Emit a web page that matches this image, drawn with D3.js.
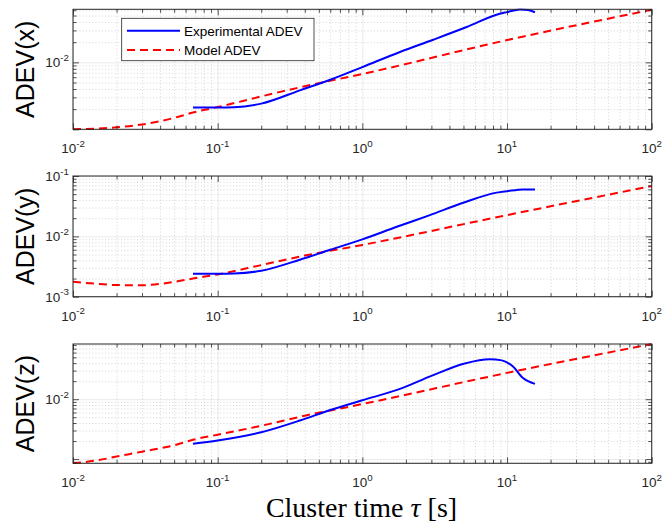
<!DOCTYPE html>
<html>
<head>
<meta charset="utf-8">
<script src="https://cdn.jsdelivr.net/npm/d3@7"></script>
<style>
  body { margin: 0; background: #fff; }
  svg { display: block; }
</style>
</head>
<body>
<svg id="chart" width="665" height="526"></svg>
<script>
// axis settings
var xDomain = [1e-2, 1e2];
var xTickValues = [1e-2, 1e-1, 1e0, 1e1, 1e2];
var axisNames = ["ADEV(x)", "ADEV(y)", "ADEV(z)"];
var yDomains = [[1e-3, 0.062], [1e-3, 0.1], [8.5e-4, 8.35e-2]];
var yTickValues = [[1e-2], [1e-3, 1e-2, 1e-1], [1e-2]];
var legendLabels = ["Experimental ADEV", "Model ADEV"];
var xTitle = "Cluster time ";

// model ADEV (red dashed)
var modelTau = [0.01, 0.015, 0.02, 0.03, 0.05, 0.0675, 0.1, 0.2, 0.4, 1, 10, 100];
var modelX = [1.0e-3, 1.03e-3, 1.07e-3, 1.18e-3, 1.48e-3, 1.78e-3, 2.15e-3, 3.1e-3, 4.4e-3, 6.7e-3, 2.15e-2, 6.1e-2];
var modelY = [1.77e-3, 1.63e-3, 1.56e-3, 1.55e-3, 1.76e-3, 2.0e-3, 2.34e-3, 3.34e-3, 4.8e-3, 7.2e-3, 2.25e-2, 6.8e-2];
var modelZ = [8.5e-4, 9.6e-4, 1.1e-3, 1.33e-3, 1.7e-3, 2.1e-3, 2.55e-3, 3.6e-3, 5.3e-3, 8.3e-3, 2.75e-2, 8.35e-2];

// experimental ADEV (blue)
var expTauX = [0.0675, 0.1, 0.13, 0.2, 0.37, 0.6, 1, 1.82, 3.09, 5.26, 8.9, 10, 12.3, 14, 15.6];
var expX = [2.11e-3, 2.11e-3, 2.13e-3, 2.42e-3, 3.82e-3, 5.5e-3, 8.5e-3, 1.43e-2, 2.18e-2, 3.37e-2, 5.33e-2, 5.63e-2, 6.18e-2, 6.05e-2, 5.6e-2];
var expTauY = [0.0675, 0.1, 0.13, 0.2, 0.37, 0.6, 1, 1.73, 2.93, 4.98, 8.47, 10, 12.9, 15.6];
var expY = [2.4e-3, 2.4e-3, 2.42e-3, 2.69e-3, 4.1e-3, 6.0e-3, 8.9e-3, 1.44e-2, 2.25e-2, 3.6e-2, 5.3e-2, 5.6e-2, 6.0e-2, 5.95e-2];
var expTauZ = [0.0675, 0.1, 0.2, 0.37, 0.6, 1, 1.8, 3, 5.1, 7.6, 9.2, 11, 12.9, 15.6];
var expZ = [1.8e-3, 2.04e-3, 2.8e-3, 4.4e-3, 6.6e-3, 9.6e-3, 1.47e-2, 2.45e-2, 3.95e-2, 4.65e-2, 4.45e-2, 3.5e-2, 2.25e-2, 1.8e-2];

var panels = [
  { model: modelX, expTau: expTauX, exp: expX, top: 9.3, bottom: 129.3 },
  { model: modelY, expTau: expTauY, exp: expY, top: 176, bottom: 296.7 },
  { model: modelZ, expTau: expTauZ, exp: expZ, top: 344, bottom: 463.3 }
];

var left = 73, right = 651.7;
var frameColor = "#262626";
var font = "'Liberation Sans', Arial, Helvetica, sans-serif";
var tickFont = 13.5;

var svg = d3.select("#chart");

var translate = function(x, y) {
  return "translate(" + x + "," + y + ")";
};

// 2..9 x 10^k values inside a domain
var minorValues = function(domain) {
  var out = [];
  var lo = Math.floor(Math.log10(domain[0])), hi = Math.ceil(Math.log10(domain[1]));
  for (var k = lo; k <= hi; k++) {
    for (var m = 2; m <= 9; m++) {
      var v = m * Math.pow(10, k);
      if (v >= domain[0] * 0.999 && v <= domain[1] * 1.001) out.push(v);
    }
  }
  return out;
};

var majorValues = function(domain) {
  var out = [];
  for (var k = Math.floor(Math.log10(domain[0])); k <= Math.ceil(Math.log10(domain[1])); k++) {
    var v = Math.pow(10, k);
    if (v >= domain[0] * 0.999 && v <= domain[1] * 1.001) out.push(v);
  }
  return out;
};

var powerLabel = function(sel, v, fontSize) {
  var e = Math.round(Math.log10(v));
  sel.append("tspan").text("10");
  sel.append("tspan")
    .attr("dy", -6.5)
    .attr("font-size", fontSize * 0.72)
    .text(e);
};

var styleGrid = function(g, color, dash) {
  g.select(".domain").remove();
  g.selectAll("line")
    .attr("stroke", color)
    .attr("stroke-width", 0.6)
    .attr("stroke-dasharray", dash);
};

var styleTicks = function(g) {
  g.select(".domain").remove();
  g.selectAll("line").attr("stroke", frameColor).attr("stroke-width", 0.8);
};

panels.forEach(function(p, i) {
  var h = p.bottom - p.top;
  var x = d3.scaleLog().domain(xDomain).range([left, right]);
  var y = d3.scaleLog().domain(yDomains[i]).range([p.bottom, p.top]);
  var g = svg.append("g").attr("class", "panel");

  // grid
  var xMinor = minorValues(xDomain), yMinor = minorValues(yDomains[i]);
  var xMajor = majorValues(xDomain), yMajor = majorValues(yDomains[i]);

  g.append("g").attr("transform", translate(0, p.bottom))
    .call(d3.axisBottom(x).tickValues(xMinor).tickSize(-h).tickFormat(""))
    .call(styleGrid, "#b8b8b8", "1,2.2");
  g.append("g").attr("transform", translate(left, 0))
    .call(d3.axisLeft(y).tickValues(yMinor).tickSize(-(right - left)).tickFormat(""))
    .call(styleGrid, "#b8b8b8", "1,2.2");
  g.append("g").attr("transform", translate(0, p.bottom))
    .call(d3.axisBottom(x).tickValues(xMajor).tickSize(-h).tickFormat(""))
    .call(styleGrid, "#dcdcdc", null);
  g.append("g").attr("transform", translate(left, 0))
    .call(d3.axisLeft(y).tickValues(yMajor).tickSize(-(right - left)).tickFormat(""))
    .call(styleGrid, "#dcdcdc", null);

  // clip
  svg.append("clipPath").attr("id", "clip" + i)
    .append("rect")
    .attr("x", left).attr("y", p.top - 1)
    .attr("width", right - left).attr("height", h + 2);

  var line = d3.line()
    .x(function(d) { return x(d[0]); })
    .y(function(d) { return y(d[1]); })
    .curve(d3.curveMonotoneX);

  var lines = g.append("g").attr("clip-path", "url(#clip" + i + ")");
  lines.append("path")
    .datum(modelTau.map(function(t, j) { return [t, p.model[j]]; }))
    .attr("d", line)
    .attr("fill", "none")
    .attr("stroke", "#ff0000")
    .attr("stroke-width", 2)
    .attr("stroke-dasharray", "8,5");
  lines.append("path")
    .datum(p.expTau.map(function(t, j) { return [t, p.exp[j]]; }))
    .attr("d", line)
    .attr("fill", "none")
    .attr("stroke", "#0000ff")
    .attr("stroke-width", 2);

  // inward ticks on all four sides
  g.append("g").attr("transform", translate(0, p.bottom))
    .call(d3.axisBottom(x).tickValues(xMinor).tickSize(-3.5).tickFormat("")).call(styleTicks);
  g.append("g").attr("transform", translate(0, p.bottom))
    .call(d3.axisBottom(x).tickValues(xMajor).tickSize(-6).tickFormat("")).call(styleTicks);
  g.append("g").attr("transform", translate(0, p.top))
    .call(d3.axisTop(x).tickValues(xMinor).tickSize(-3.5).tickFormat("")).call(styleTicks);
  g.append("g").attr("transform", translate(0, p.top))
    .call(d3.axisTop(x).tickValues(xMajor).tickSize(-6).tickFormat("")).call(styleTicks);
  g.append("g").attr("transform", translate(left, 0))
    .call(d3.axisLeft(y).tickValues(yMinor).tickSize(-3.5).tickFormat("")).call(styleTicks);
  g.append("g").attr("transform", translate(left, 0))
    .call(d3.axisLeft(y).tickValues(yMajor).tickSize(-6).tickFormat("")).call(styleTicks);
  g.append("g").attr("transform", translate(right, 0))
    .call(d3.axisRight(y).tickValues(yMinor).tickSize(-3.5).tickFormat("")).call(styleTicks);
  g.append("g").attr("transform", translate(right, 0))
    .call(d3.axisRight(y).tickValues(yMajor).tickSize(-6).tickFormat("")).call(styleTicks);

  // frame
  g.append("rect")
    .attr("x", left).attr("y", p.top)
    .attr("width", right - left).attr("height", h)
    .attr("fill", "none")
    .attr("stroke", frameColor)
    .attr("stroke-width", 1);

  // tick labels
  xTickValues.forEach(function(v) {
    g.append("text")
      .attr("x", x(v)).attr("y", p.bottom + 24)
      .attr("text-anchor", "middle")
      .attr("font-family", font).attr("font-size", tickFont)
      .attr("fill", frameColor)
      .call(powerLabel, v, tickFont);
  });
  yTickValues[i].forEach(function(v) {
    g.append("text")
      .attr("x", left - 4).attr("y", y(v) + 5)
      .attr("text-anchor", "end")
      .attr("font-family", font).attr("font-size", tickFont)
      .attr("fill", frameColor)
      .call(powerLabel, v, tickFont);
  });

  // y title
  g.append("text")
    .attr("transform", translate(34, (p.top + p.bottom) / 2) + " rotate(-90)")
    .attr("text-anchor", "middle")
    .attr("font-family", font).attr("font-size", 25)
    .attr("fill", "#000")
    .text(axisNames[i]);
});

// legend in top panel
var lg = svg.append("g").attr("class", "legend");
lg.append("rect")
  .attr("x", 121.7).attr("y", 18.3)
  .attr("width", 192.3).attr("height", 42.4)
  .attr("fill", "#fff")
  .attr("stroke", frameColor)
  .attr("stroke-width", 0.8);
var legendStyles = [
  { color: "#0000ff", dash: null },
  { color: "#ff0000", dash: "8,5" }
];
legendLabels.forEach(function(label, k) {
  var ly = 30.7 + k * 19.3;
  lg.append("line")
    .attr("x1", 127).attr("x2", 180)
    .attr("y1", ly).attr("y2", ly)
    .attr("stroke", legendStyles[k].color)
    .attr("stroke-width", 2)
    .attr("stroke-dasharray", legendStyles[k].dash);
  lg.append("text")
    .attr("x", 184).attr("y", ly + 4.8)
    .attr("font-family", font).attr("font-size", 13.5)
    .attr("fill", "#000")
    .text(label);
});

// x title
var xt = svg.append("text")
  .attr("x", 361.5).attr("y", 517)
  .attr("text-anchor", "middle")
  .attr("font-family", "'Liberation Serif', 'Times New Roman', serif")
  .attr("font-size", 28)
  .attr("fill", "#000");
xt.append("tspan").text(xTitle);
xt.append("tspan").attr("font-style", "italic").text("\u03C4");
xt.append("tspan").text(" [s]");
</script>
</body>
</html>
